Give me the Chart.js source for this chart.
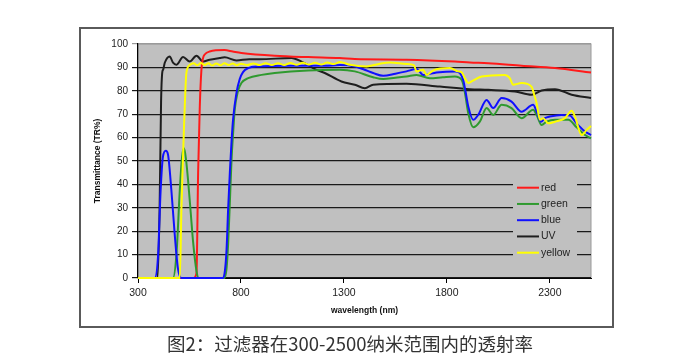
<!DOCTYPE html>
<html>
<head>
<meta charset="utf-8">
<script src="https://cdn.jsdelivr.net/npm/chart.js@4/dist/chart.umd.min.js"></script>
<style>
	html, body { margin: 0; padding: 0; background: #fff; }
	#wrap { position: relative; width: 700px; height: 357px; }
	#frame { position: absolute; left: 79px; top: 27px; width: 531px; height: 297px; border: 2px solid #5a5a5a; }
	#chart { position: absolute; left: 0; top: 0; }
	#caption { position: absolute; left: 0; top: 330px; width: 700px; text-align: center;
		font-family: "Noto Sans CJK SC", "Noto Sans", sans-serif; font-size: 18.5px; color: #333; }
</style>
</head>
<body>
<div id="wrap">
	<div id="frame"></div>
	<canvas id="chart" width="700" height="357"></canvas>
	<div id="caption">图2：过滤器在300-2500纳米范围内的透射率</div>
</div>
<script>
// series names as in the legend
const seriesNames = ["red", "green", "blue", "UV", "yellow"];
const seriesColors = ["#ff1a1a", "#2f9a2f", "#1010ff", "#1e1e1e", "#ffff00"];
const wavelengthTicks = [300, 800, 1300, 1800, 2300];

// wavelength (nm) / transmittance (%)
const redWl = [300, 570, 584, 592, 600, 608, 616, 624, 648, 720, 760, 802, 964, 1126, 1280, 1353, 1604, 1839, 1912, 2001, 2163, 2325, 2500];
const redT = [0, 0, 2, 45, 73, 89, 94, 95.5, 96.8, 97.4, 96.8, 96.2, 95, 94.4, 94, 93.6, 93.3, 92.5, 92.1, 91.8, 90.7, 89.7, 87.8];

const greenWl = [300, 470, 487, 503, 514, 524, 534, 543, 556, 567, 584, 595, 720, 730, 738, 746, 754, 762, 770, 786, 802, 835, 900, 964, 1126, 1280, 1353, 1442, 1491, 1550, 1604, 1653, 1717, 1780, 1839, 1871, 1880, 1890, 1904, 1928, 1960, 1993, 2025, 2066, 2114, 2163, 2219, 2236, 2260, 2284, 2325, 2390, 2430, 2471, 2500];
const greenT = [0, 0, 10.5, 37.6, 51.8, 55.4, 50, 41.9, 28, 16, 3, 0, 0, 4, 15, 32, 50, 62, 72, 80, 83.3, 85.4, 86.8, 87.6, 88.7, 89, 88.3, 85.8, 85, 85.6, 86.1, 86.8, 85.4, 85.8, 86.1, 84.7, 82.6, 78, 70.4, 64.4, 66.8, 72.6, 69.7, 74, 72.6, 68.3, 71.9, 69.7, 65.4, 66.8, 67.6, 67.6, 64.4, 61.1, 59.7];

const blueWl = [300, 381, 397, 410, 421, 435, 446, 462, 478, 494, 511, 713, 722, 730, 738, 746, 754, 762, 778, 794, 810, 835, 883, 1045, 1207, 1280, 1353, 1400, 1442, 1491, 1550, 1604, 1653, 1685, 1750, 1839, 1863, 1879, 1890, 1904, 1928, 1952, 1993, 2025, 2066, 2114, 2163, 2219, 2236, 2257, 2276, 2300, 2357, 2398, 2430, 2471, 2500];
const blueT = [0, 0, 9, 37.6, 51.8, 54.4, 52.6, 37.6, 19, 4, 0, 0, 3, 12, 30, 45, 58, 68, 79, 85, 88, 89.7, 90.4, 90.7, 90.7, 91, 90.4, 89, 87.6, 86.4, 87.3, 88.3, 89.3, 86.8, 87.8, 88.3, 87.6, 84.7, 80, 73.3, 67.6, 69.7, 76.1, 72.6, 76.9, 75.4, 71.1, 74, 71.1, 66.8, 68.3, 69, 69.7, 69.4, 66.1, 62.6, 61.1];

const uvWl = [300, 395, 405, 412, 418, 422, 430, 454, 470, 486, 519, 551, 584, 616, 648, 697, 721, 778, 840, 891, 1045, 1094, 1159, 1207, 1288, 1353, 1402, 1442, 1604, 1766, 1912, 2001, 2131, 2211, 2260, 2325, 2406, 2500];
const uvT = [0, 0, 30, 75, 88, 89, 92, 94.7, 92, 91.1, 94.4, 92.5, 95, 92.5, 93.3, 94, 94.3, 93, 93.5, 93.5, 94, 92.5, 89.3, 87.6, 84, 82.6, 81.1, 82.6, 83, 81.8, 80.7, 80.4, 79.7, 78.3, 80.1, 80.7, 78.3, 76.9];

const yellowWl = [300, 503, 511, 518, 524, 530, 535, 551, 570, 588, 606, 624, 642, 660, 680, 700, 720, 740, 760, 780, 800, 830, 860, 890, 920, 950, 980, 1010, 1040, 1070, 1100, 1130, 1160, 1190, 1220, 1250, 1280, 1329, 1410, 1470, 1523, 1604, 1640, 1653, 1685, 1701, 1734, 1815, 1855, 1871, 1890, 1904, 1920, 1969, 2082, 2105, 2122, 2163, 2211, 2225, 2236, 2252, 2268, 2292, 2325, 2373, 2406, 2422, 2454, 2479, 2500];
const yellowT = [0, 0, 30, 50, 66, 80, 87.7, 91, 91.8, 90.9, 91.9, 91, 91.8, 90.8, 91.7, 90.9, 91.8, 91, 91.7, 90.9, 91.6, 91, 91.7, 91, 91.8, 91, 91.8, 91, 91.9, 91.1, 92, 91.2, 92, 91.2, 92.1, 91.4, 92.3, 91.1, 90.4, 91.5, 92.1, 91.5, 91, 88.3, 89, 86.8, 88.7, 89.7, 88.3, 88, 85, 83.3, 84, 86.1, 86.8, 85.5, 82.6, 83.3, 81.8, 78, 74.7, 67.6, 68.3, 66.1, 66.8, 68.3, 71.5, 69, 61.1, 63.3, 65];

const seriesWl = [redWl, greenWl, blueWl, uvWl, yellowWl];
const seriesT = [redT, greenT, blueT, uvT, yellowT];
const drawOrder = [3, 2, 1, 4, 0]; // yellow on top

const plotGrey = "#c0c0c0";

const plotBackground = {
	id: "plotBackground",
	beforeDraw(chart) {
		const { ctx, chartArea: a } = chart;
		ctx.save();
		ctx.fillStyle = plotGrey;
		ctx.fillRect(a.left, a.top, a.right - a.left, a.bottom - a.top);
		ctx.strokeStyle = "#9a9a9a";
		ctx.lineWidth = 1;
		ctx.strokeRect(a.left, a.top, a.right - a.left, a.bottom - a.top);
		ctx.restore();
	},
};

// legend sits inside the plot, lower right, on a grey patch that hides the grid
const legendBox = {
	id: "legendBox",
	afterDatasetsDraw(chart) {
		const { ctx, chartArea: a } = chart;
		const x0 = a.right - 78;
		const y0 = a.bottom - 102;
		ctx.save();
		ctx.fillStyle = plotGrey;
		ctx.fillRect(x0, y0, 64, 88);
		ctx.font = "10.5px 'Liberation Sans', Arial, sans-serif";
		ctx.textBaseline = "middle";
		chart.data.datasets.forEach((ds, i) => {
			const y = y0 + 11.7 + i * 16.25;
			ctx.strokeStyle = ds.borderColor;
			ctx.lineWidth = 2;
			ctx.beginPath();
			ctx.moveTo(x0 + 4, y);
			ctx.lineTo(x0 + 26, y);
			ctx.stroke();
			ctx.fillStyle = "#222";
			ctx.fillText(ds.label, x0 + 28, y);
		});
		ctx.restore();
	},
};

const datasets = seriesNames.map((name, i) => ({
	label: name,
	data: seriesWl[i].map((x, j) => ({ x, y: seriesT[i][j] })),
	borderColor: seriesColors[i],
	borderWidth: 2,
	pointRadius: 0,
	cubicInterpolationMode: "monotone",
	clip: 3,
	order: drawOrder[i],
}));

const tickFont = { family: "'Liberation Sans', Arial, sans-serif", size: 10 };
const titleFont = { family: "'Liberation Sans', Arial, sans-serif", size: 8.5, weight: "bold" };

new Chart(document.getElementById("chart"), {
	type: "line",
	data: { datasets },
	options: {
		responsive: false,
		animation: false,
		layout: { padding: { left: 89, top: 44, right: 109, bottom: 37 } },
		plugins: { legend: { display: false }, tooltip: { enabled: false } },
		scales: {
			x: {
				type: "linear",
				min: 300,
				max: 2500,
				afterBuildTicks: (scale) => {
					scale.ticks = wavelengthTicks.map((v) => ({ value: v }));
				},
				afterFit: (scale) => {
					scale.height = 42;
				},
				grid: { drawOnChartArea: false, tickLength: 5, color: "#000" },
				border: { color: "#000", width: 1, z: -1 },
				ticks: { font: { ...tickFont, size: 10.5 }, color: "#222", padding: 4, maxRotation: 0, callback: (v) => String(v) },
				title: { display: true, text: "wavelength (nm)", font: titleFont, color: "#111", padding: { top: 0, bottom: 4 } },
			},
			y: {
				min: 0,
				max: 100,
				afterFit: (scale) => {
					scale.width = 49;
				},
				ticks: { stepSize: 10, font: tickFont, color: "#222", padding: 4 },
				grid: {
					tickLength: 6,
					lineWidth: 1.2,
					z: -1,
					color: (c) => (c.tick && c.tick.value === 100 ? "#9a9a9a" : "#1a1a1a"),
				},
				border: { color: "#000", width: 1.2 },
				title: { display: true, text: "Transmittance (TR%)", font: titleFont, color: "#111", padding: { top: 4, bottom: 4 } },
			},
		},
	},
	plugins: [plotBackground, legendBox],
});
</script>
</body>
</html>
